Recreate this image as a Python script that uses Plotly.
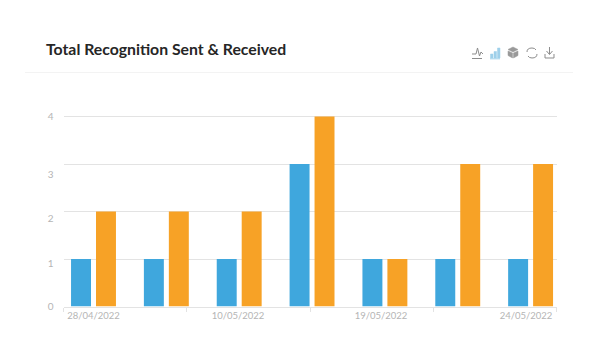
import re
import plotly.graph_objects as go

dates = ["28/04/2022", "", "10/05/2022", "", "19/05/2022", "", "24/05/2022"]
slots = list(range(len(dates)))
sent = [1, 1, 1, 3, 1, 1, 1]
received = [2, 2, 2, 4, 1, 3, 3]
y_ticks = [0, 1, 2, 3, 4]
y_labels = ["0", "1", "2", "3", "4"]
BLUE, ORANGE, GRID, LABEL = "#3fa7dd", "#f7a226", "#e3e3e3", "#b5b5b5"

fig = go.Figure()
fig.add_bar(x=slots, y=sent, marker_color=BLUE, marker_line_width=0, name="Sent")
fig.add_bar(x=slots, y=received, marker_color=ORANGE, marker_line_width=0, name="Received")

px_l, px_r, px_b = 63.5, 556.5, 306.5
unit = 47.5
y_top = 4.03
px_t = px_b - unit * y_top
step = 72.85
c0 = 93.5
xrange = [(px_l - c0) / step, (px_r - c0) / step]


def paper_x(p):
    return p / 605


def paper_y(p):
    return 1 - p / 361


label_pos = [0, (238 - c0) / step, (381 - c0) / step, (526 - c0) / step]
label_txt = [d for d in dates if d]
tick_pos = [xrange[0] + (xrange[1] - xrange[0]) * k / 4 for k in range(5)]
# the reference's y labels sit slightly off their gridlines
y_label_pos = [0, (px_b - 263) / unit, (px_b - 218) / unit, (px_b - 174) / unit, 4]

dom_x = [paper_x(px_l), paper_x(px_r)]
dom_y = [paper_y(px_b), paper_y(px_t)]

fig.add_trace(go.Scatter(x=[0], y=[0], xaxis="x2", yaxis="y2", mode="markers", marker_opacity=0,
                         hoverinfo="skip", showlegend=False))

fig.update_layout(
    width=605, height=361, autosize=False, showlegend=False,
    paper_bgcolor="white", plot_bgcolor="white",
    margin=dict(l=0, r=0, t=0, b=0),
    barmode="group", bargap=0.315, bargroupgap=0.2,
    font=dict(family="Lato, sans-serif", color=LABEL, size=10),
    xaxis=dict(domain=dom_x, range=xrange, tickmode="array", automargin=False,
               tickvals=label_pos, ticktext=label_txt, ticks="", showgrid=False,
               zeroline=False, showline=True, linecolor=GRID, linewidth=1,
               tickfont=dict(size=9.5, color=LABEL), anchor="y"),
    xaxis2=dict(domain=dom_x, range=xrange, overlaying="x", automargin=False,
                anchor="y2", side="bottom", tickmode="array", tickvals=tick_pos,
                ticktext=[""] * 5, ticks="outside", ticklen=4, tickcolor=GRID,
                showgrid=False, zeroline=False),
    yaxis=dict(domain=dom_y, range=[0, y_top], tickmode="array", automargin=False,
               tickvals=y_ticks, ticktext=[""] * 5, ticks="", showgrid=True,
               gridcolor=GRID, gridwidth=1, zeroline=False, showline=False),
    yaxis2=dict(domain=dom_y, range=[0, y_top], overlaying="y", anchor="x2", side="left",
                automargin=False, tickmode="array", tickvals=y_label_pos, ticktext=y_labels,
                ticks="", showgrid=False, zeroline=False, showline=False, ticklabelstandoff=9,
                tickfont=dict(size=10, color=LABEL)),
)

fig.add_annotation(text="<b>Total Recognition Sent &amp; Received</b>", xref="paper", yref="paper",
                   x=paper_x(43.5), y=paper_y(48), xanchor="left", yanchor="middle", showarrow=False,
                   font=dict(family="Lato, sans-serif", size=15.8, color="#262626"))
fig.add_shape(type="line", xref="paper", yref="paper", x0=paper_x(25), x1=paper_x(573),
              y0=paper_y(72.5), y1=paper_y(72.5), line=dict(color="#f3f3f3", width=1))


def icon(path, color="#8c8c8c", fill=None, w=1):
    """path given in window pixels, converted to paper coordinates"""
    out = []
    for cmd, args in re.findall(r"([MLQZ])([^MLQZ]*)", path):
        nums = [float(v) for v in args.split()]
        pts = [f"{paper_x(nums[i]):.5f},{paper_y(nums[i + 1]):.5f}" for i in range(0, len(nums), 2)]
        out.append(" ".join([cmd] + pts))
    fig.add_shape(type="path", xref="paper", yref="paper", path=" ".join(out),
                  line=dict(color=color, width=w), fillcolor=fill or "rgba(0,0,0,0)")


# toolbox glyphs
icon("M472 54 L476 54 L477.5 48 L479.5 56 L481 52 L483 54")
icon("M472 58.5 L482 58.5")
for l, t in ((490.5, 54), (494, 51.5), (497.5, 48)):
    icon(f"M{l} 58 L{l} {t} L{l + 2.5} {t} L{l + 2.5} 58 Z", color="#9fd0ea", fill="#9fd0ea", w=0.5)
icon("M490 58.8 L500 58.8", color="#9fd0ea")
icon("M513 47 L518 49.5 L513 52 L508 49.5 Z", color="#999999", fill="#999999", w=0.5)
icon("M508 51 L512.5 53 L512.5 58 L508 55.5 Z", color="#999999", fill="#999999", w=0.5)
icon("M518 51 L513.5 53 L513.5 58 L518 55.5 Z", color="#999999", fill="#999999", w=0.5)
icon("M527 52 Q527 48 532 48 Q535 48 536 50")
icon("M537 54 Q537 58 532 58 Q529 58 528 56")
icon("M549.5 47 L549.5 54 M546.5 51 L549.5 54.5 L552.5 51")
icon("M545 54 L545 58 L554 58 L554 54")

fig.write_html("out.html", config={"displayModeBar": False},
               post_script="document.body.style.margin='0';document.body.style.overflow='hidden';")
